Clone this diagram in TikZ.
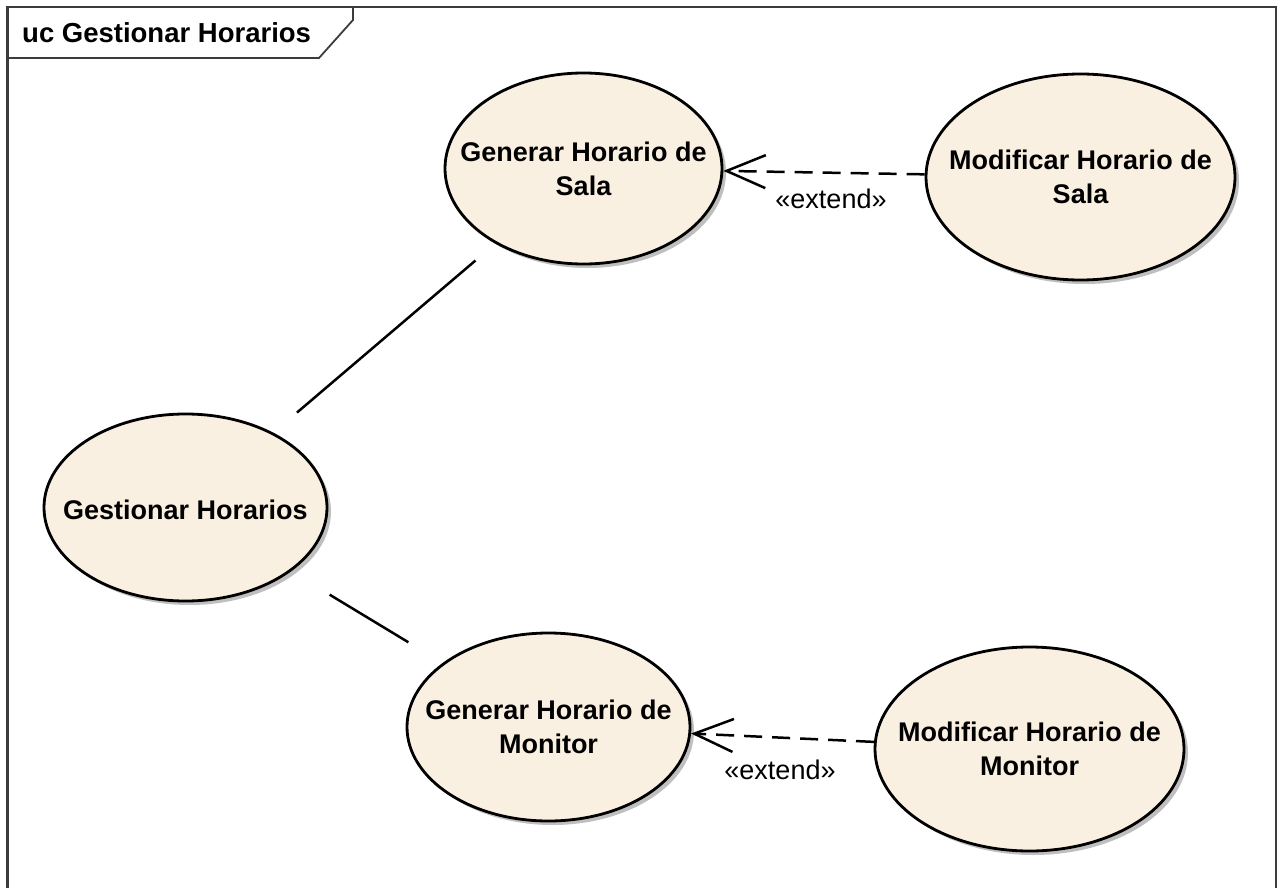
\documentclass[tikz,border=0pt]{standalone}
\usepackage{fontspec}
\setmainfont{Liberation Sans}
\usetikzlibrary{arrows.meta,shapes.geometric,shadows}
\definecolor{ucfill}{RGB}{250,240,226}
\definecolor{framec}{RGB}{60,60,60}
\begin{document}
\begin{tikzpicture}[x=1pt,y=-1pt,
  usecase/.style={ellipse, draw=black, line width=2.8pt, fill=ucfill, inner sep=0pt,
    general shadow={fill=black!25, shadow xshift=4pt, shadow yshift=-4pt}},
  uctext/.style={font=\fontsize{27}{34}\selectfont\bfseries, align=center, inner sep=0pt},
  lbltext/.style={font=\fontsize{27}{32}\selectfont, inner sep=0pt},
  assoc/.style={line width=2.5pt},
  extendc/.style={line width=2.5pt, dash pattern=on 18pt off 10pt,
    -{Straight Barb[length=39pt,width=33pt]}},
  framel/.style={draw=framec, line width=2.2pt}]
\useasboundingbox (0,0) rectangle (1282,888);
% frame
\draw[framel] (7.5,888) -- (7.5,7) -- (1276,7) -- (1276,888);
\draw[framel, line width=1.8pt] (7.5,58) -- (319,58) -- (353,20) -- (353,7);
\node[font=\fontsize{27.5}{32}\selectfont\bfseries, anchor=base west, inner sep=0pt] (title) at (22,43) {uc Gestionar Horarios};
% use cases
\node[usecase, minimum width=277pt, minimum height=191pt] (gsala) at (583.5,168.5) {};
\node[usecase, minimum width=309pt, minimum height=206pt] (msala) at (1080.5,177) {};
\node[usecase, minimum width=283pt, minimum height=187pt] (gest) at (185.5,507.5) {};
\node[usecase, minimum width=283pt, minimum height=188pt] (gmon) at (548.5,727) {};
\node[usecase, minimum width=309pt, minimum height=204pt] (mmon) at (1029.5,749) {};
\node[uctext] (gsalat) at (gsala) {Generar Horario de\\Sala};
\node[uctext] (msalat) at (msala) {Modificar Horario de\\Sala};
\node[uctext] (gestt) at ([yshift=-2pt]gest.center) {Gestionar Horarios};
\node[uctext] (gmont) at (gmon) {Generar Horario de\\Monitor};
\node[uctext] (mmont) at (mmon) {Modificar Horario de\\Monitor};
% connectors
\draw[assoc, shorten <=31pt, shorten >=26pt] (gest) -- (gsala);
\draw[assoc, shorten <=45pt, shorten >=40pt] (gest) -- (gmon);
\draw[extendc] (msala) -- (gsala);
\draw[extendc] (mmon) -- (gmon);
\node[lbltext] (ext1) at (831,199) {«extend»};
\node[lbltext] (ext2) at (780,770) {«extend»};
\end{tikzpicture}
\end{document}
